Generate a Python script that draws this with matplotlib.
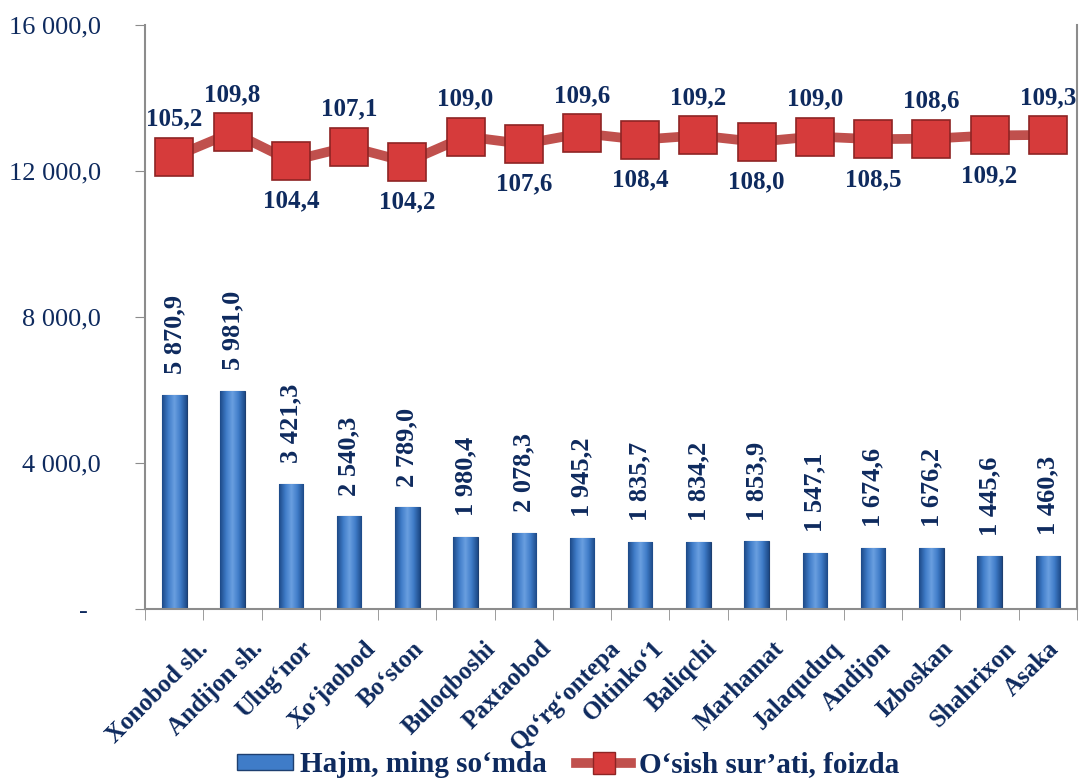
import numpy as np
import matplotlib.pyplot as plt
from matplotlib.patches import Patch
from matplotlib.lines import Line2D
from matplotlib.ticker import FuncFormatter
from matplotlib.colors import LinearSegmentedColormap
import matplotlib.transforms as mtransforms

# Ma'lumotlar
tumanlar = ["Xonobod sh.", "Andijon sh.", "Ulug\u2018nor", "Xo\u2018jaobod", "Bo\u2018ston",
            "Buloqboshi", "Paxtaobod", "Qo\u2018rg\u2018ontepa", "Oltinko\u20181", "Baliqchi",
            "Marhamat", "Jalaquduq", "Andijon", "Izboskan", "Shahrixon", "Asaka"]
hajm = [5870.9, 5981.0, 3421.3, 2540.3, 2789.0, 1980.4, 2078.3, 1945.2,
        1835.7, 1834.2, 1853.9, 1547.1, 1674.6, 1676.2, 1445.6, 1460.3]
osish = [105.2, 109.8, 104.4, 107.1, 104.2, 109.0, 107.6, 109.6,
         108.4, 109.2, 108.0, 109.0, 108.5, 108.6, 109.2, 109.3]
yticks = [0, 4000, 8000, 12000, 16000]

navy = "#0E2A5E"
plt.rcParams['font.family'] = ['Liberation Serif', 'DejaVu Serif']

def fmt(v):
    s = "{:,.1f}".format(v).replace(",", " ").replace(".", ",")
    return s

fig = plt.figure(figsize=(10.84, 7.81), dpi=100)
ax = fig.add_axes([0.134, 0.220, 0.8595, 0.748])
x = np.arange(len(tumanlar))

# ustunlar (gradient bilan)
bars = ax.bar(x, hajm, width=0.42, color="#3A6DB3", edgecolor="#1E3F70", linewidth=0.8, zorder=2)
kok = LinearSegmentedColormap.from_list("kok", ["#1D4A88", "#3F7CC8", "#6A9FE0", "#3F7CC8", "#1D4A88"])
grad = np.linspace(0, 1, 64).reshape(1, -1)
for b in bars:
    im = ax.imshow(grad, cmap=kok, aspect="auto", zorder=2.1,
                   extent=(b.get_x(), b.get_x() + b.get_width(), 0, b.get_height()))
    im.set_clip_path(b)

for xi, v in zip(x, hajm):
    ax.annotate(fmt(v), (xi, v), xytext=(0, 15), textcoords="offset points",
                rotation=90, ha="center", va="bottom", fontsize=19,
                fontweight="bold", color=navy)

ax.set_ylim(0, 16000)
ax.set_xlim(-0.5, len(tumanlar) - 0.5)
ax.set_yticks(yticks)
ax.yaxis.set_major_formatter(FuncFormatter(lambda v, p: "-  " if v == 0 else fmt(v)))
ax.tick_params(axis="y", labelsize=19, labelcolor=navy, color="#8C8C8C", length=7, pad=25)

ax.set_xticks(x)
ax.set_xticks(np.arange(-0.5, len(tumanlar)), minor=True)
ax.tick_params(axis="x", which="major", length=0, pad=20)
ax.tick_params(axis="x", which="minor", length=8, color="#8C8C8C")
ax.set_xticklabels(tumanlar, rotation=45, ha="center", va="top",
                   fontsize=18, fontweight="bold", color=navy)
offset = mtransforms.ScaledTranslation(-12 / 72, 0, fig.dpi_scale_trans)
for lab in ax.get_xticklabels():
    lab.set_transform(lab.get_transform() + offset)

for s in ["left", "bottom"]:
    ax.spines[s].set_color("#8C8C8C")
    ax.spines[s].set_linewidth(1.5)
ax.spines["top"].set_visible(False)
ax.spines["right"].set_visible(False)

# o'sish sur'ati chizig'i
ax2 = ax.twinx()
ax2.set_ylim(20, 130)
ax2.plot(x, osish, color="#C0504D", linewidth=7, marker="s", markersize=27,
         markerfacecolor="#D63B3B", markeredgecolor="#8E2424", markeredgewidth=1.2, zorder=3)
for i, (xi, v) in enumerate(zip(x, osish)):
    up = (i % 2 == 1) or i == 0
    ax2.annotate(fmt(v), (xi, v), xytext=(0, 27 if up else -29), textcoords="offset points",
                 ha="center", va="center", fontsize=18, fontweight="bold", color=navy)
ax2.set_yticks([])
ax2.spines["top"].set_visible(False)
ax2.spines["left"].set_visible(False)
ax2.spines["bottom"].set_visible(False)
ax2.spines["right"].set_color("#8C8C8C")
ax2.spines["right"].set_linewidth(1.5)

handles = [Patch(facecolor="#3F7CC8", edgecolor="#1E3F70"),
           Line2D([0], [0], color="#C0504D", linewidth=7, marker="s", markersize=16,
                  markerfacecolor="#D63B3B", markeredgecolor="#8E2424")]
fig.legend(handles, ["Hajm, ming so\u2018mda", "O\u2018sish sur\u2019ati, foizda"],
           loc="lower center", bbox_to_anchor=(0.524, -0.03), ncol=2, frameon=False,
           prop={"size": 21, "weight": "bold"}, labelcolor=navy,
           handlelength=1.9, handleheight=0.5, handletextpad=0.25, columnspacing=1.0)

fig.savefig("out.png", dpi=100)
